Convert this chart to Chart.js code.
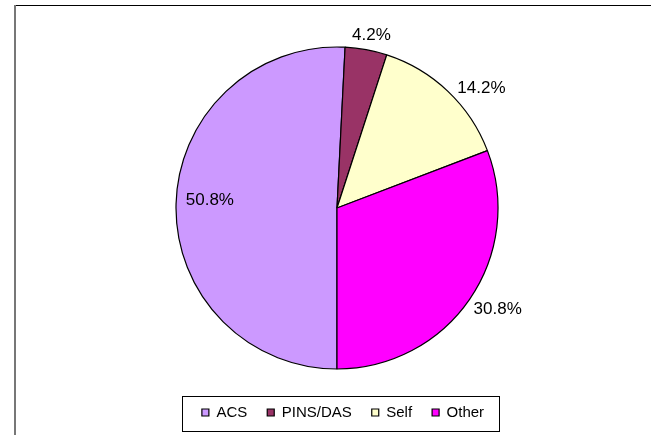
<!DOCTYPE html>
<html>
<head>
<meta charset="utf-8">
<script src="https://cdn.jsdelivr.net/npm/chart.js@4"></script>
<style>
  body { margin: 0; background: #fff; }
  canvas { display: block; }
</style>
</head>
<body>
<canvas id="grafico" width="656" height="435"></canvas>
<script>
const categorias = ['ACS', 'PINS/DAS', 'Self', 'Other'];
const percentuais = [50.8, 4.2, 14.2, 30.8];
const cores = ['#CC99FF', '#993366', '#FFFFCC', '#FF00FF'];

const fonte = "'Liberation Sans', Arial, sans-serif";
const espacoLegenda = 20;
// pequeno ajuste manual dos rótulos (o Excel não posiciona de forma totalmente radial)
const ajusteRotulo = [[0, 0], [0, 0], [10, 7], [0, 0]];

// Moldura (o original está cortado à direita e embaixo) + caixa da legenda
const moldura = {
  id: 'moldura',
  beforeDraw(chart) {
    const ctx = chart.ctx;
    ctx.save();
    ctx.fillStyle = '#fff';
    ctx.fillRect(0, 0, chart.width, chart.height);
    ctx.strokeStyle = '#000';
    ctx.lineWidth = 1;
    ctx.beginPath();
    ctx.moveTo(15, 5.5);
    ctx.lineTo(651, 5.5);
    ctx.stroke();
    ctx.strokeStyle = '#777';
    ctx.lineWidth = 2;
    ctx.beginPath();
    ctx.moveTo(15, 5);
    ctx.lineTo(15, chart.height);
    ctx.stroke();
    ctx.restore();
  },
  afterLayout(chart) {
    // legenda um pouco à direita do centro da pizza, como no original
    chart.legend.left += 6;
    chart.legend.right += 6;
  },
  afterDraw(chart) {
    const lg = chart.legend;
    const total = lg.lineWidths[0] - espacoLegenda;
    const meio = (lg.left + lg.right) / 2;
    const topo = lg.top + espacoLegenda - 9;
    const ctx = chart.ctx;
    ctx.save();
    ctx.strokeStyle = '#000';
    ctx.lineWidth = 1;
    ctx.strokeRect(Math.round(meio - total / 2 - 20) + 0.5, Math.round(topo) + 0.5,
      Math.round(total + 35), 35);
    ctx.restore();
  }
};

// Rótulos de porcentagem (fora da pizza, exceto a fatia maior)
const rotulos = {
  id: 'rotulos',
  afterDatasetsDraw(chart) {
    const ctx = chart.ctx;
    const meta = chart.getDatasetMeta(0);
    ctx.save();
    ctx.font = `17px ${fonte}`;
    ctx.fillStyle = '#000';
    ctx.textBaseline = 'alphabetic';
    ctx.textAlign = 'left';
    const altura = 12;
    meta.data.forEach((arco, i) => {
      const { x, y, startAngle, endAngle, outerRadius } =
        arco.getProps(['x', 'y', 'startAngle', 'endAngle', 'outerRadius'], true);
      const ang = (startAngle + endAngle) / 2;
      const dx = Math.cos(ang), dy = Math.sin(ang);
      const texto = percentuais[i].toFixed(1) + '%';
      const largura = ctx.measureText(texto).width;
      let esq, topo;
      if (percentuais[i] > 40) {
        const cx = x + dx * outerRadius * 0.79;
        const cy = y + dy * outerRadius * 0.79 - 6;
        esq = cx - largura / 2;
        topo = cy - altura / 2;
      } else {
        const px = x + dx * (outerRadius + 10);
        const py = y + dy * (outerRadius + 10);
        esq = px - largura * (1 - dx) / 2;
        topo = py - altura * (1 - dy) / 2;
      }
      esq += ajusteRotulo[i][0];
      topo += ajusteRotulo[i][1];
      ctx.fillText(texto, esq, topo + altura);
    });
    ctx.restore();
  }
};

Chart.defaults.color = '#000';
Chart.defaults.font.family = fonte;

const ctx = document.getElementById('grafico').getContext('2d');
new Chart(ctx, {
  type: 'pie',
  data: {
    labels: categorias,
    datasets: [{
      data: percentuais,
      backgroundColor: cores,
      borderColor: '#000',
      borderWidth: 1.2,
      hoverOffset: 0,
    }],
  },
  options: {
    responsive: false,
    devicePixelRatio: 1,
    animation: false,
    rotation: 180,
    radius: 161,
    layout: { padding: { top: 31, bottom: 5, left: 18, right: 0 } },
    plugins: {
      legend: {
        position: 'bottom',
        labels: {
          boxWidth: 7,
          boxHeight: 7,
          padding: espacoLegenda,
          font: { size: 15 },
          color: '#000',
        },
      },
      tooltip: { enabled: false },
    },
    events: [],
  },
  plugins: [moldura, rotulos],
});
</script>
</body>
</html>
